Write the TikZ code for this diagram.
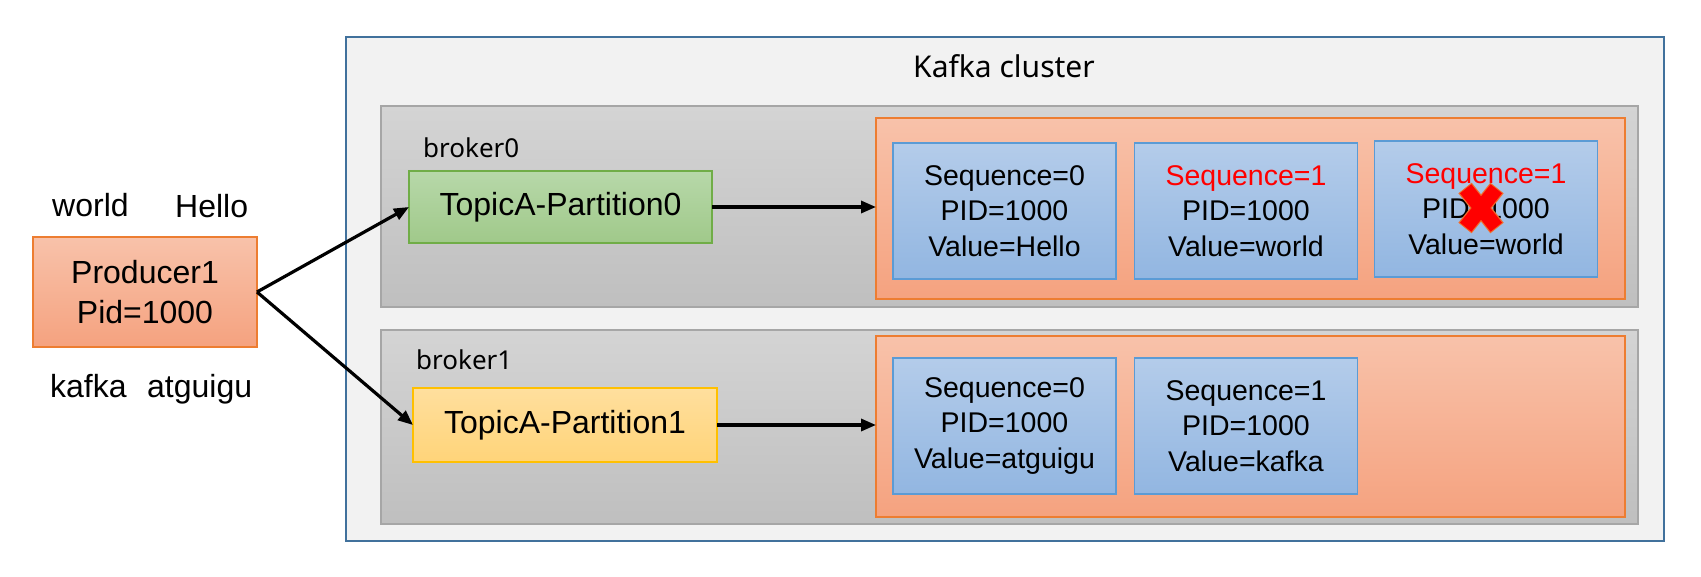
\documentclass[tikz,border=0pt]{standalone}
\usepackage{fontspec}
\setmainfont{Liberation Sans}
\newfontfamily\notosans{Noto Sans}
\usetikzlibrary{arrows.meta,calc}
\definecolor{clusterfill}{HTML}{F2F2F2}
\definecolor{clusterline}{HTML}{41719C}
\definecolor{graytop}{HTML}{D4D4D4}
\definecolor{graybot}{HTML}{BFBFBF}
\definecolor{grayline}{HTML}{A6A6A6}
\definecolor{greentop}{HTML}{B7D8A9}
\definecolor{greenbot}{HTML}{A0C98A}
\definecolor{greenline}{HTML}{70AD47}
\definecolor{yellowtop}{HTML}{FFDF9E}
\definecolor{yellowbot}{HTML}{FFD479}
\definecolor{yellowline}{HTML}{FFC000}
\definecolor{orangetop}{HTML}{F8C2AA}
\definecolor{orangebot}{HTML}{F5A27F}
\definecolor{orangeline}{HTML}{ED7D31}
\definecolor{bluetop}{HTML}{B4CCEA}
\definecolor{bluebot}{HTML}{92B6E1}
\definecolor{blueline}{HTML}{5B9BD5}
\definecolor{xred}{HTML}{FF0000}
\definecolor{xline}{HTML}{F26B2A}
\tikzset{
  box/.style={rectangle, inner sep=0pt, outer sep=0pt, line width=1.3pt},
  clusterbox/.style={box, fill=clusterfill, draw=clusterline, line width=2pt},
  brokerbox/.style={box, top color=graytop, bottom color=graybot, draw=grayline, line width=1.5pt},
  greenbox/.style={box, top color=greentop, bottom color=greenbot, draw=greenline, font=\fontsize{32}{40}\selectfont},
  yellowbox/.style={box, top color=yellowtop, bottom color=yellowbot, draw=yellowline, font=\fontsize{32}{40}\selectfont},
  orangebox/.style={box, top color=orangetop, bottom color=orangebot, draw=orangeline},
  msgbox/.style={box, top color=bluetop, bottom color=bluebot, draw=blueline, align=center,
    minimum width=223pt, minimum height=136pt, font=\fontsize{28.5}{35.5}\selectfont},
  word/.style={anchor=base west, inner sep=0pt, font=\fontsize{32}{40}\selectfont},
  label/.style={anchor=base west, inner sep=0pt, font=\notosans\fontsize{26}{30}\selectfont},
  arr/.style={line width=3.2pt, -{Triangle[length=15pt,width=12pt]}},
}
\begin{document}
\begin{tikzpicture}[x=1pt,y=-1pt]
\useasboundingbox (0,0) rectangle (1701,577);
% cluster
\node[clusterbox, minimum width=1318pt, minimum height=504pt] (cluster) at (1005,289) {};
\node[anchor=base west, inner sep=0pt, font=\notosans\fontsize{30}{34}\selectfont] (ctitle) at (913,78) {Kafka cluster};
% brokers
\node[brokerbox, minimum width=1257pt, minimum height=201pt] (g0) at (1009.5,206.5) {};
\node[brokerbox, minimum width=1257pt, minimum height=194pt] (g1) at (1009.5,427) {};
\node[label] (b0) at (423,158) {broker0};
\node[label] (b1) at (416,370) {broker1};
% partitions
\node[greenbox, minimum width=303pt, minimum height=72pt] (p0) at (560.5,207) {TopicA-Partition0};
\node[yellowbox, minimum width=304pt, minimum height=74pt] (p1) at (565,425) {TopicA-Partition1};
% logs
\node[orangebox, minimum width=749pt, minimum height=181pt] (o0) at (1250.5,208.5) {};
\node[orangebox, minimum width=749pt, minimum height=181pt] (o1) at (1250.5,426.5) {};
\node[msgbox] (m1) at (1004.5,211) {Sequence=0\\PID=1000\\Value=Hello};
\node[msgbox] (m2) at (1246,211) {\textcolor{xred}{Sequence=1}\\PID=1000\\Value=world};
\node[msgbox] (m3) at (1486,209) {\textcolor{xred}{Sequence=1}\\PID=1000\\Value=world};
\node[msgbox] (m4) at (1004.5,426) {Sequence=0\\PID=1000\\Value=atguigu};
\node[msgbox] (m5) at (1246,426) {Sequence=1\\PID=1000\\Value=kafka};
% red cross
\coordinate (xc) at ($(m3.center)+(-5,-1)$);
\draw[xline, line width=17pt] ($(xc)+(-16,-20)$) -- ($(xc)+(16,20)$);
\draw[xline, line width=17pt] ($(xc)+(16,-20)$) -- ($(xc)+(-16,20)$);
\draw[xred, line width=14.5pt] ($(xc)+(-15.3,-19.2)$) -- ($(xc)+(15.3,19.2)$);
\draw[xred, line width=14.5pt] ($(xc)+(15.3,-19.2)$) -- ($(xc)+(-15.3,19.2)$);
% producer
\node[orangebox, minimum width=224pt, minimum height=110pt, align=center, font=\fontsize{32}{40}\selectfont] (prod) at (145,292) {Producer1\\Pid=1000};
\node[word] (w1) at (52,217) {world};
\node[word] (w2) at (175,218) {Hello};
\node[word] (w3) at (50,397) {kafka};
\node[word] (w4) at (147,397) {atguigu};
% arrows
\draw[arr] (prod.east) -- (p0.west);
\draw[arr] (prod.east) -- (p1.west);
\draw[arr] (p0.east) -- (p0.east -| o0.west);
\draw[arr] (p1.east) -- (p1.east -| o1.west);
\end{tikzpicture}
\end{document}
